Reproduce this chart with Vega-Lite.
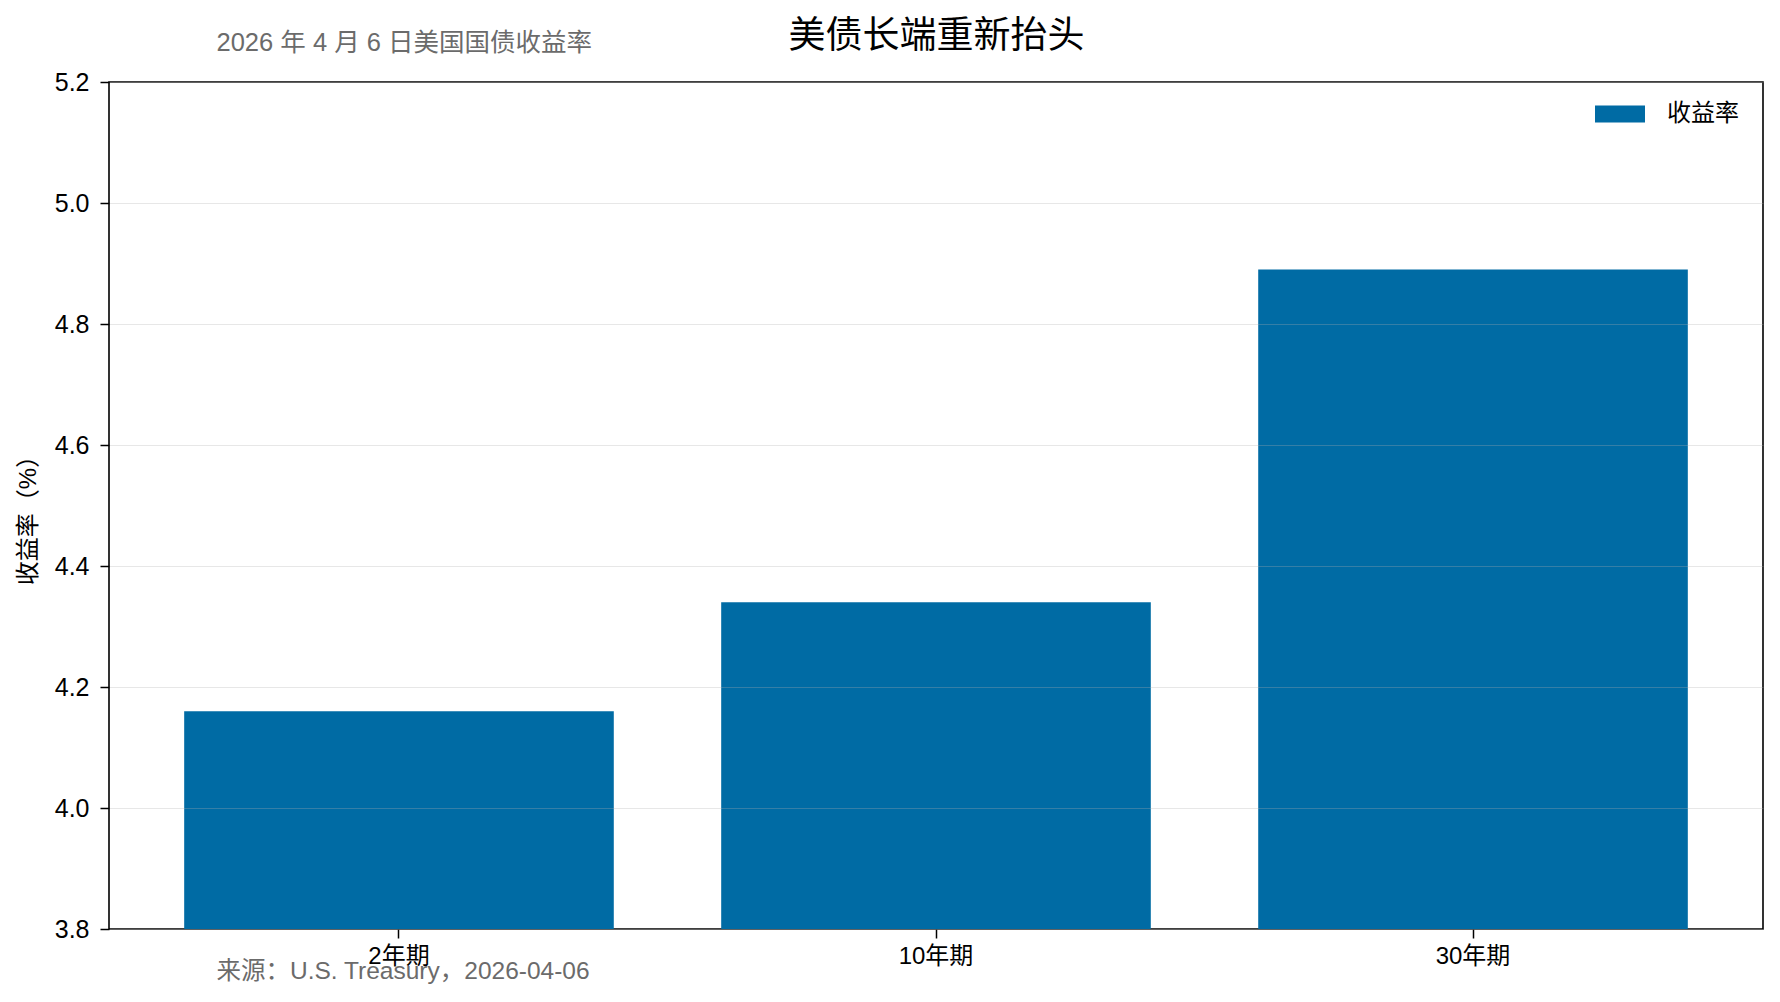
{
  "$schema": "https://vega.github.io/schema/vega-lite/v6.json",
  "autosize": "none",
  "width": 1654,
  "height": 847,
  "padding": {"left": 109, "top": 82, "right": 17, "bottom": 73},
  "background": "white",
  "config": {
    "font": "Liberation Sans, Noto Sans CJK SC",
    "view": {"stroke": "black", "strokeWidth": 1.6},
    "axis": {"domain": false, "labelFont": "Liberation Sans, Noto Sans CJK SC", "titleFont": "Liberation Sans, Noto Sans CJK SC"},
    "legend": {"labelFont": "Liberation Sans, Noto Sans CJK SC"}
  },
  "data": {
    "values": [
      {"期限": "2年期", "收益率": 4.16},
      {"期限": "10年期", "收益率": 4.34},
      {"期限": "30年期", "收益率": 4.89}
    ]
  },
  "layer": [
    {
      "mark": {"type": "bar", "color": "#006ba4", "clip": true},
      "encoding": {
        "x": {
          "field": "期限",
          "type": "nominal",
          "sort": null,
          "scale": {"paddingInner": 0.2, "paddingOuter": 0.14},
          "axis": {
            "orient": "bottom",
            "labelAngle": 0,
            "labelFontSize": 24,
            "labelColor": "black",
            "labelPadding": 6,
            "tickColor": "black",
            "tickSize": 9,
            "tickWidth": 1.5,
            "grid": false,
            "title": "来源：U.S. Treasury，2026-04-06",
            "titleFontSize": 24.5,
            "titleFontWeight": "normal",
            "titleColor": "#6b6b6b",
            "titleAnchor": null,
            "titleAlign": "left",
            "titleBaseline": "middle",
            "titleX": 107,
            "titleY": 42
          }
        },
        "y": {
          "field": "收益率",
          "type": "quantitative",
          "scale": {"domain": [3.8, 5.2], "zero": false, "nice": false},
          "axis": {
            "values": [3.8, 4.0, 4.2, 4.4, 4.6, 4.8, 5.0, 5.2],
            "format": ".1f",
            "labelFontSize": 25,
            "labelColor": "black",
            "labelPadding": 11,
            "tickColor": "black",
            "tickSize": 9,
            "tickWidth": 1.5,
            "grid": true,
            "gridColor": "#b0b0b0",
            "gridOpacity": 0.3,
            "gridWidth": 1.2,
            "zindex": 1,
            "title": "收益率（%）",
            "titleFontSize": 24,
            "titleFontWeight": "normal",
            "titleColor": "black",
            "titleAnchor": null,
            "titleX": -81,
            "titleY": 432,
            "titleAlign": "center",
            "titleBaseline": "middle"
          }
        },
        "color": {
          "datum": "收益率",
          "type": "nominal",
          "scale": {"range": ["#006ba4"]},
          "legend": {
            "title": null,
            "orient": "none",
            "legendX": 1486,
            "legendY": 7,
            "padding": 0,
            "symbolType": "M-1,-0.34H1V0.34H-1Z",
            "symbolSize": 2500,
            "symbolStrokeWidth": 0,
            "symbolOpacity": 1,
            "labelFontSize": 24,
            "labelColor": "black",
            "labelOffset": 22
          }
        }
      }
    },
    {
      "mark": {"type": "bar", "opacity": 0},
      "encoding": {
        "x": {
          "field": "期限",
          "type": "nominal",
          "sort": null,
          "axis": {
            "orient": "top",
            "labels": false,
            "ticks": false,
            "grid": false,
            "title": "美债长端重新抬头",
            "titleFont": "Noto Sans CJK SC",
            "titleFontSize": 37,
            "titleFontWeight": "normal",
            "titleColor": "black",
            "titleAnchor": null,
            "titleAlign": "center",
            "titleBaseline": "middle",
            "titleX": 827,
            "titleY": -46
          }
        },
        "y": {
          "field": "收益率",
          "type": "quantitative",
          "axis": {
            "orient": "right",
            "labels": false,
            "ticks": false,
            "grid": false,
            "title": "2026 年 4 月 6 日美国国债收益率",
            "titleAngle": 0,
            "titleFontSize": 25.5,
            "titleFontWeight": "normal",
            "titleColor": "#6b6b6b",
            "titleAnchor": null,
            "titleAlign": "left",
            "titleBaseline": "middle",
            "titleX": -1547,
            "titleY": -40
          }
        }
      }
    }
  ],
  "resolve": {"axis": {"x": "independent", "y": "independent"}}
}
